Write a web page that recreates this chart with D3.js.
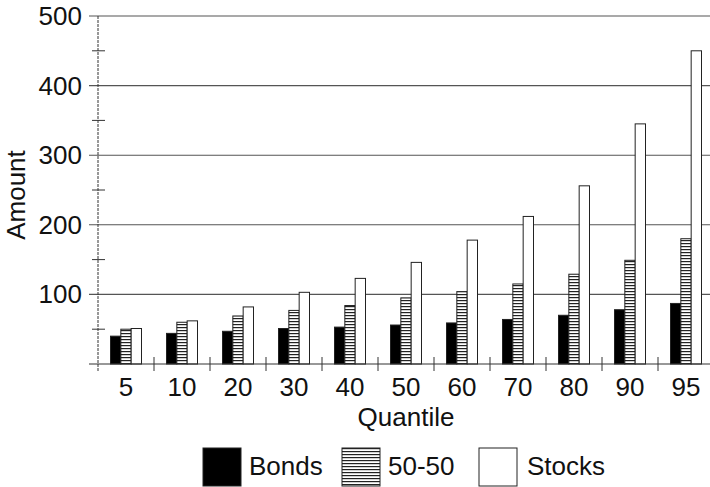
<!DOCTYPE html>
<html>
<head>
<meta charset="utf-8">
<script src="https://cdn.jsdelivr.net/npm/d3@7"></script>
<style>
  body { margin: 0; background: #fff; }
  text { font-family: "Liberation Sans", Arial, sans-serif; fill: #111; }
</style>
</head>
<body>
<div id="chart"></div>
<script>
// Data
var quantiles = ['5', '10', '20', '30', '40', '50', '60', '70', '80', '90', '95'];
var seriesNames = ['Bonds', '50-50', 'Stocks'];
var bonds  = [40, 44, 47, 51, 53, 56, 59, 64, 70, 78, 87];
var mixed  = [50, 60, 69, 77, 84, 95, 104, 115, 129, 149, 180];
var stocks = [51, 62, 82, 103, 123, 146, 178, 212, 256, 345, 450];
var yTicks = [100, 200, 300, 400, 500];
var yMinorTicks = [50, 150, 250, 350, 450];

var width = 710, height = 487;
// plot area (note: 'top' is a reserved window property, so use other names)
var plotLeft = 98, plotRight = 714, plotTop = 16, plotBottom = 364;

var svg = d3.select('#chart').append('svg')
  .attr('width', width)
  .attr('height', height);

// hatch pattern for the 50-50 bars
var defs = svg.append('defs');
var pat = defs.append('pattern')
  .attr('id', 'hatch')
  .attr('patternUnits', 'userSpaceOnUse')
  .attr('width', 6)
  .attr('height', 3);
pat.append('rect').attr('width', 6).attr('height', 3).attr('fill', '#fff');
pat.append('rect').attr('y', 0).attr('width', 6).attr('height', 1.2).attr('fill', '#222');

var x = d3.scaleBand().domain(quantiles).range([plotLeft, plotRight]).paddingInner(0).paddingOuter(0);
var y = d3.scaleLinear().domain([0, 500]).range([plotBottom, plotTop]);
var groupWidth = 31;
var xs = d3.scaleBand().domain(seriesNames).range([0, groupWidth]);

// gridlines
svg.selectAll('.grid')
  .data(yTicks)
  .enter()
  .append('line')
  .attr('x1', 89)
  .attr('x2', width)
  .attr('y1', function(d) { return y(d); })
  .attr('y2', function(d) { return y(d); })
  .style('stroke', '#555')
  .style('stroke-width', 1.1);

// minor ticks
svg.selectAll('.minor')
  .data(yMinorTicks)
  .enter()
  .append('line')
  .attr('x1', 92)
  .attr('x2', 105)
  .attr('y1', function(d) { return y(d); })
  .attr('y2', function(d) { return y(d); })
  .style('stroke', '#333')
  .style('stroke-width', 1);

// y axis line
svg.append('line')
  .attr('x1', plotLeft).attr('x2', plotLeft)
  .attr('y1', plotTop).attr('y2', plotBottom + 7)
  .style('stroke', '#333')
  .style('stroke-width', 1)
  .style('stroke-dasharray', '3,1');

// y tick labels
svg.selectAll('.ylab')
  .data(yTicks)
  .enter()
  .append('text')
  .attr('x', 82)
  .attr('y', function(d) { return y(d) + 9; })
  .style('text-anchor', 'end')
  .style('font-size', '26px')
  .text(function(d) { return d; });

// bars
var data = quantiles.map(function(q, i) {
  return [
    { q: q, s: 'Bonds', v: bonds[i] },
    { q: q, s: '50-50', v: mixed[i] },
    { q: q, s: 'Stocks', v: stocks[i] }
  ];
});
var fills = { 'Bonds': '#000', '50-50': 'url(#hatch)', 'Stocks': '#fff' };

var groups = svg.selectAll('.grp')
  .data(data)
  .enter()
  .append('g')
  .attr('transform', function(d) {
    return 'translate(' + (x(d[0].q) + (x.bandwidth() - groupWidth) / 2) + ',0)';
  });
groups.selectAll('rect')
  .data(function(d) { return d; })
  .enter()
  .append('rect')
  .attr('x', function(d) { return xs(d.s); })
  .attr('width', xs.bandwidth())
  .attr('y', function(d) { return y(d.v); })
  .attr('height', function(d) { return y(0) - y(d.v); })
  .style('fill', function(d) { return fills[d.s]; })
  .style('stroke', '#222')
  .style('stroke-width', 1);

// baseline
svg.append('line')
  .attr('x1', 89).attr('x2', width)
  .attr('y1', plotBottom).attr('y2', plotBottom)
  .style('stroke', '#333')
  .style('stroke-width', 1.1);

// category separators
svg.selectAll('.sep')
  .data(quantiles.slice(1))
  .enter()
  .append('line')
  .attr('x1', function(d) { return x(d); })
  .attr('x2', function(d) { return x(d); })
  .attr('y1', plotBottom - 7)
  .attr('y2', plotBottom + 7)
  .style('stroke', '#333')
  .style('stroke-width', 1);

// x tick labels
svg.selectAll('.xlab')
  .data(quantiles)
  .enter()
  .append('text')
  .attr('x', function(d) { return x(d) + x.bandwidth() / 2; })
  .attr('y', 396)
  .style('text-anchor', 'middle')
  .style('font-size', '26px')
  .text(function(d) { return d; });

// axis titles
svg.append('text')
  .attr('x', (plotLeft + plotRight) / 2)
  .attr('y', 426)
  .style('text-anchor', 'middle')
  .style('font-size', '26px')
  .text('Quantile');

svg.append('text')
  .attr('transform', 'translate(25,195) rotate(-90)')
  .style('text-anchor', 'middle')
  .style('font-size', '26px')
  .text('Amount');

// legend
var legendX = [203, 342, 479];
var legend = svg.selectAll('.leg')
  .data(seriesNames)
  .enter()
  .append('g')
  .attr('transform', function(d, i) { return 'translate(' + legendX[i] + ',448)'; });
legend.append('rect')
  .attr('width', 38)
  .attr('height', 38)
  .style('fill', function(d) { return fills[d]; })
  .style('stroke', '#222')
  .style('stroke-width', 1);
legend.append('text')
  .attr('x', function(d, i) { return i === 2 ? 48 : 46; })
  .attr('y', 27)
  .style('font-size', '26px')
  .text(function(d) { return d; });
</script>
</body>
</html>
